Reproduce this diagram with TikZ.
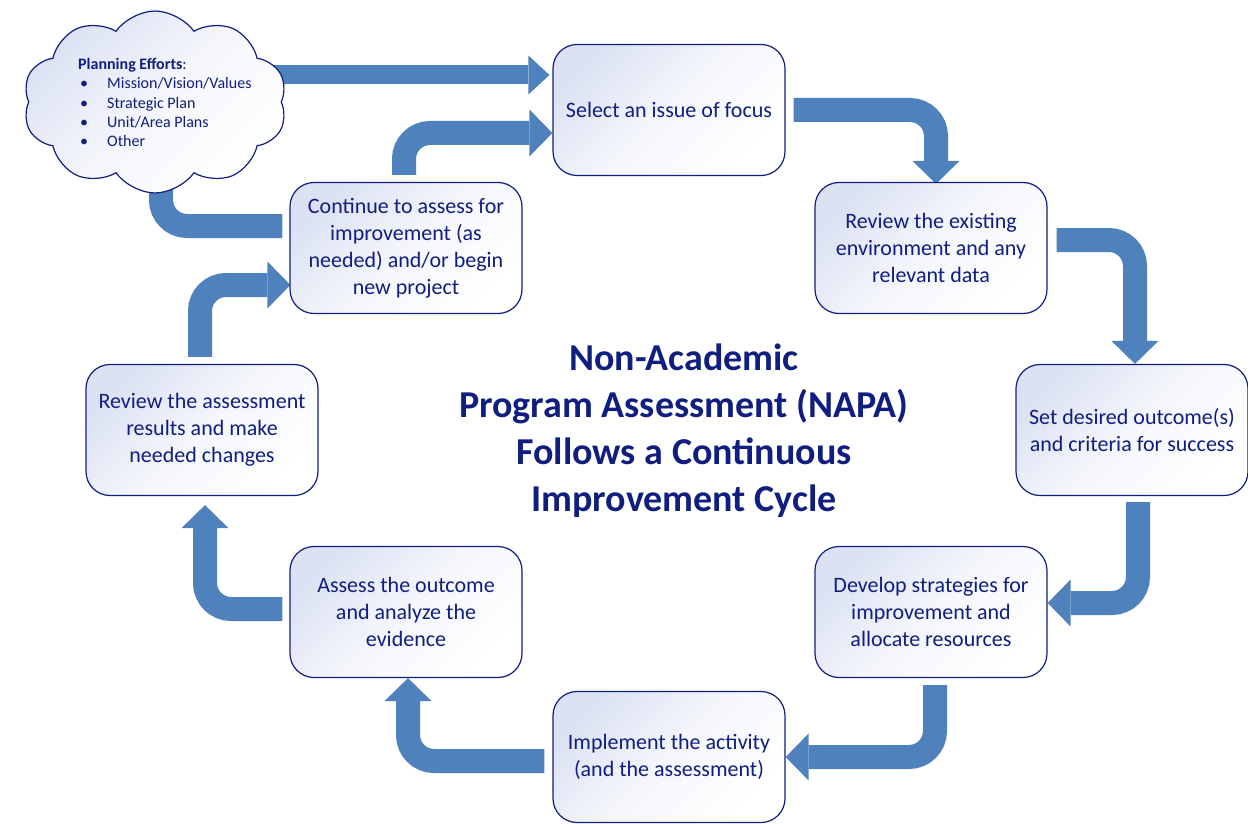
\documentclass[tikz,border=0pt]{standalone}
\usepackage{fontspec}
\setmainfont{Carlito}
\usetikzlibrary{arrows.meta,calc,shapes.symbols}
\definecolor{navy}{RGB}{16,30,128}
\definecolor{arrowblue}{RGB}{79,129,189}
\definecolor{boxtint}{RGB}{220,226,243}
\pgfdeclarelayer{background}
\pgfsetlayers{background,main}
\tikzset{
  tinted/.style={top color=boxtint, bottom color=white, middle color=boxtint!30!white, shading angle=45},
  stepbox/.style={draw=navy, line width=1.2pt, rounded corners=24pt,
    minimum width=232pt, minimum height=131pt, align=center, text=navy,
    font=\fontsize{22}{27}\selectfont, tinted, inner sep=0pt},
  flow/.style={draw=arrowblue, line width=24pt, rounded corners=26pt,
    -{Triangle[width=47pt 0 0,length=23pt 0 0,line width=0pt 0 0]}},
  thinflow/.style={flow, line width=19pt,
    -{Triangle[width=39pt 0 0,length=21pt 0 0,line width=0pt 0 0]}},
}
\begin{document}
\begin{tikzpicture}[x=1pt,y=-1pt]
\useasboundingbox (0,0) rectangle (1248,824);

\node[stepbox] (sel) at (669,110) {Select an issue of focus};
\node[stepbox] (rev) at (931,248) {Review the existing\\environment and any\\relevant data};
\node[stepbox] (set) at (1132,430) {Set desired outcome(s)\\and criteria for success};
\node[stepbox] (dev) at (931,612) {Develop strategies for\\improvement and\\allocate resources};
\node[stepbox] (imp) at (669,757) {Implement the activity\\(and the assessment)};
\node[stepbox] (ass) at (406,612) {Assess the outcome\\and analyze the\\evidence};
\node[stepbox] (rar) at (202,430) {Review the assessment\\results and make\\needed changes};
\node[stepbox] (cont) at (406,248) {Continue to assess for\\improvement (as\\needed) and/or begin\\new project};

\node[text=navy, font=\bfseries\fontsize{38}{47}\selectfont, align=center] (title) at (684,431)
  {Non-Academic\\Program Assessment (NAPA)\\Follows a Continuous\\Improvement Cycle};

\node[cloud, draw=navy, line width=1.2pt, cloud puffs=10, cloud puff arc=110, aspect=1.45,
  minimum width=264pt, minimum height=182pt, tinted] (cloud) at (155,102) {};
\node[anchor=north west, text=navy, font=\fontsize{16}{19.3}\selectfont, align=left, inner sep=0pt]
  (plan) at (78,58) {\textbf{Planning Efforts}:\\
  \makebox[29pt][l]{\hspace{2pt}•}Mission/Vision/Values\\
  \makebox[29pt][l]{\hspace{2pt}•}Strategic Plan\\
  \makebox[29pt][l]{\hspace{2pt}•}Unit/Area Plans\\
  \makebox[29pt][l]{\hspace{2pt}•}Other};

\begin{pgfonlayer}{background}
  \coordinate (atip) at ($(sel.west)+(-3,-35)$);
  \draw[thinflow] (cloud.center |- atip) -- (atip);
  \draw[flow] ($(cont.north)+(-2,-7)$) |- ($(sel.west)+(0,23)$);
  \draw[flow, -] ($(cont.west)+(-7,-22)$) -| ($(cloud.center)+(6,0)$);
  \draw[flow] ($(sel.east)+(8,0)$) -| ($(rev.north)+(5,2)$);
  \draw[flow] ($(rev.east)+(9,-8)$) -| ($(set.north)+(3,0)$);
  \draw[flow] ($(set.south)+(6,6)$) |- ($(dev.east)+(0,-9)$);
  \draw[flow] ($(dev.south)+(4,7)$) |- (imp.east);
  \draw[flow] ($(imp.west)+(-8,4)$) -| ($(ass.south)+(2,0)$);
  \draw[flow] ($(ass.west)+(-7,-3)$) -| ($(rar.south)+(3,9)$);
  \draw[flow] ($(rar.north)+(-2,-7)$) |- ($(cont.west)+(1,37)$);
\end{pgfonlayer}
\end{tikzpicture}
\end{document}
